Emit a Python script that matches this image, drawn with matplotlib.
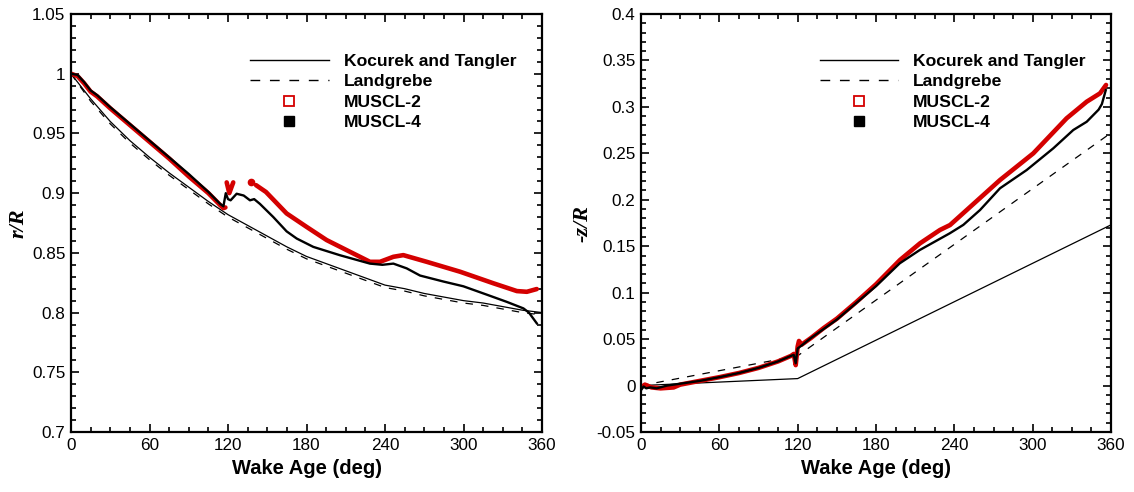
import matplotlib
matplotlib.use('Agg')
import matplotlib.pyplot as plt
from matplotlib.lines import Line2D
from matplotlib.ticker import MultipleLocator
import numpy as np

nan = np.nan

# ---- left panel: r/R ----
model_psi = [0, 15, 30, 45, 60, 75, 90, 105, 120, 135, 150, 165, 180, 195, 210,
             225, 240, 255, 270, 285, 300, 315, 330, 345, 360]
kt_r = [1.000, 0.979, 0.960, 0.944, 0.930, 0.917, 0.905, 0.893, 0.882, 0.873,
        0.864, 0.855, 0.847, 0.841, 0.835, 0.829, 0.823, 0.820, 0.816, 0.813,
        0.810, 0.808, 0.805, 0.802, 0.800]
lg_r = [1.000, 0.977, 0.958, 0.942, 0.928, 0.915, 0.903, 0.891, 0.880, 0.871,
        0.862, 0.853, 0.845, 0.839, 0.833, 0.827, 0.821, 0.818, 0.814, 0.811,
        0.808, 0.806, 0.803, 0.800, 0.798]

m4_psi_r = [0, 5, 10, 15, 20, 30, 45, 60, 75, 90, 105, 114, 116.5, 118.3, 120,
            122, 126.6, 132, 136.8, 140, 144.4, 154.6, 164.8, 172.5, 185.2,
            205.6, 228.5, 238, 246.4, 256.6, 266.8, 284.6, 299.9, 317.8, 333,
            345.8, 350, 356]
m4_r = [1.000, 0.999, 0.993, 0.986, 0.982, 0.972, 0.958, 0.944, 0.930, 0.916,
        0.901, 0.891, 0.889, 0.900, 0.895, 0.894, 0.8995, 0.898, 0.894, 0.895,
        0.891, 0.880, 0.868, 0.862, 0.855, 0.848, 0.841, 0.840, 0.841, 0.837,
        0.831, 0.826, 0.822, 0.815, 0.809, 0.8035, 0.800, 0.791]

m2_psi_r = [0, 5, 10, 15, 20, 30, 45, 60, 75, 90, 105, 114, 116.5, 118, nan,
            119, 121, 124, nan,
            141.4, 149, 164.8, 180, 195.4, 213.2, 228.5, 236.2, 246.4, 254,
            271.9, 297.4, 322.9, 340.8, 348.4, 356]
m2_r = [1.000, 0.998, 0.992, 0.985, 0.981, 0.971, 0.957, 0.943, 0.929, 0.914,
        0.900, 0.890, 0.8875, 0.888, nan,
        0.909, 0.900, 0.909, nan,
        0.9067, 0.901, 0.883, 0.8718, 0.8607, 0.8509, 0.8425, 0.8425, 0.8467,
        0.8481, 0.8425, 0.8342, 0.8245, 0.818, 0.8174, 0.8197]
m2_dot_psi = [137.5]
m2_dot_r = [0.909]

# ---- right panel: -z/R ----
kt_psi_z = [0, 120, 360]
kt_z = [0.0, 0.0075, 0.173]
lg_psi_z = [0, 120, 360]
lg_z = [0.0, 0.032, 0.272]

m4_psi_z = [0, 2, 4, 7, 12, 20, 30, 45, 60, 75, 90, 105, 115, 117, 118.5, 120,
            122, 130, 140, 150, 165, 180, 198.2, 213.5, 236.5, 246.9, 259.7,
            275, 295.4, 315.8, 331.1, 341.4, 350.5, 353, 356]
m4_z = [-0.005, -0.001, -0.003, -0.002, -0.003, 0.000, 0.002, 0.005, 0.009,
        0.0135, 0.019, 0.026, 0.032, 0.033, 0.024, 0.040, 0.042, 0.051, 0.061,
        0.071, 0.089, 0.107, 0.1316, 0.1459, 0.1639, 0.173, 0.189, 0.2124,
        0.232, 0.2554, 0.2751, 0.284, 0.297, 0.303, 0.318]

m2_psi_z = [0, 3, 8, 15, 25, 30, 45, 60, 75, 90, 105, 115, 117, 118.5, 120, 121,
            123, 130, 140, 150, 165, 180, 198.4, 213.7, 229, 236.7, 249.5, 275,
            300.5, 326, 341.4, 351.6, 356.2]
m2_z = [-0.002, 0.001, -0.002, -0.003, -0.002, 0.001, 0.005, 0.009, 0.0135,
        0.019, 0.026, 0.032, 0.034, 0.022, 0.042, 0.048, 0.044, 0.051, 0.062,
        0.072, 0.090, 0.109, 0.1352, 0.1531, 0.1675, 0.1728, 0.189, 0.2213,
        0.250, 0.2877, 0.3056, 0.3146, 0.3236]

labels = ['Kocurek and Tangler', 'Landgrebe', 'MUSCL-2', 'MUSCL-4']
red = '#d40000'

fig = plt.figure(figsize=(11.34, 4.92), dpi=100)
ax1 = fig.add_axes([71 / 1134, 60 / 492, 471 / 1134, 418 / 492])
ax2 = fig.add_axes([641 / 1134, 60 / 492, 470 / 1134, 418 / 492])

sans = 'Liberation Sans'
serif = 'Liberation Serif'


def fmt_y(v, p):
    if abs(v) < 1e-9:
        return '0'
    return ('%.2f' % v).rstrip('0').rstrip('.')


def style(ax, ylim, ymaj, ymin, ylab):
    ax.set_xlim(0, 360)
    ax.set_ylim(*ylim)
    ax.xaxis.set_major_locator(MultipleLocator(60))
    ax.xaxis.set_minor_locator(MultipleLocator(15))
    ax.yaxis.set_major_locator(MultipleLocator(ymaj))
    ax.yaxis.set_minor_locator(MultipleLocator(ymin))
    ax.tick_params(which='both', direction='in', top=True, right=True,
                   width=1.2, labelsize=12.3, pad=4)
    ax.tick_params(which='major', length=6)
    ax.tick_params(which='minor', length=3.5)
    for lab in ax.get_xticklabels() + ax.get_yticklabels():
        lab.set_family(sans)
    for s in ax.spines.values():
        s.set_linewidth(1.6)
    ax.yaxis.set_major_formatter(plt.FuncFormatter(fmt_y))
    ax.xaxis.set_major_formatter(plt.FuncFormatter(lambda v, p: '%d' % v))
    ax.set_xlabel('Wake Age (deg)', family=sans, fontweight='bold', fontsize=14.5, labelpad=5)
    ax.set_ylabel(ylab, family=serif, fontweight='bold', style='italic', fontsize=16)


def legend(ax):
    handles = [
        Line2D([], [], color='black', lw=1.0),
        Line2D([], [], color='black', lw=1.0, dashes=(7, 7)),
        Line2D([], [], ls='none', marker='s', ms=7, mfc='white', mec=red, mew=1.3),
        Line2D([], [], ls='none', marker='s', ms=7, mfc='black', mec='black'),
    ]
    ax.legend(handles, labels, loc='upper left', bbox_to_anchor=(0.38, 0.905),
              frameon=False, borderpad=0, borderaxespad=0, handlelength=4.5,
              handletextpad=0.85, labelspacing=0.3,
              prop={'family': sans, 'weight': 'bold', 'size': 12.6})


# left
ax1.plot(model_psi, kt_r, color='black', lw=0.9)
ax1.plot(model_psi, lg_r, color='black', lw=0.9, dashes=(6, 6.5))
ax1.plot(m2_psi_r, m2_r, color=red, lw=3.3, solid_capstyle='round')
ax1.plot(m2_dot_psi, m2_dot_r, ls='none', marker='o', ms=4.5, color=red)
ax1.plot(m4_psi_r, m4_r, color='black', lw=1.7)
style(ax1, (0.7, 1.05), 0.05, 0.01, 'r/R')
legend(ax1)

# right
ax2.plot(kt_psi_z, kt_z, color='black', lw=0.9)
ax2.plot(lg_psi_z, lg_z, color='black', lw=0.9, dashes=(6, 6.5))
ax2.plot(m2_psi_z, m2_z, color=red, lw=3.3, solid_capstyle='round')
ax2.plot(m4_psi_z, m4_z, color='black', lw=1.7)
style(ax2, (-0.05, 0.4), 0.05, 0.01, '-z/R')
legend(ax2)

ax1.yaxis.set_label_coords(-0.091, 0.5)
ax2.yaxis.set_label_coords(-0.104, 0.5)

fig.savefig('out.png', dpi=100)
